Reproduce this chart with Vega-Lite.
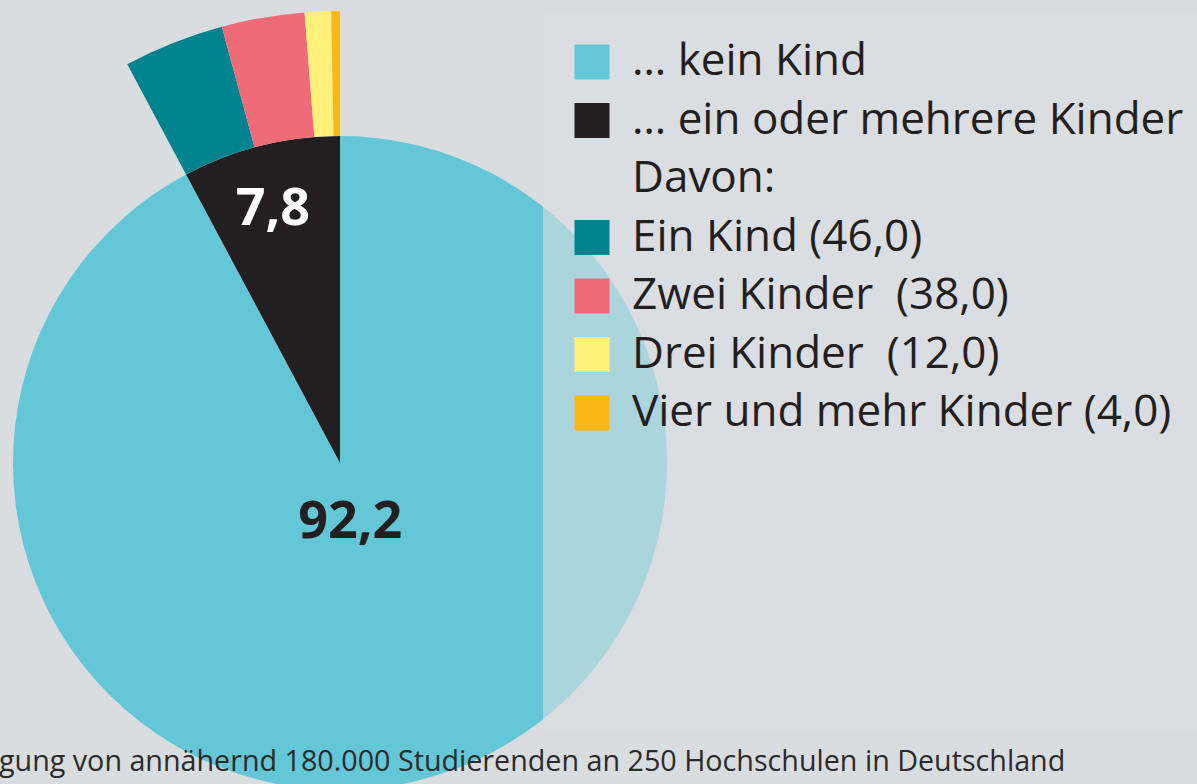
{
  "$schema": "https://vega.github.io/schema/vega-lite/v6.json",
  "width": 680,
  "height": 564,
  "autosize": {"type": "none"},
  "padding": {"left": 0, "top": 181, "right": 517, "bottom": 39},
  "background": "#d9dde0",
  "config": {
    "view": {"stroke": null},
    "font": "Open Sans"
  },
  "title": {
    "text": "gung von annähernd 180.000 Studierenden an 250 Hochschulen in Deutschland",
    "orient": "bottom",
    "anchor": "start",
    "frame": "group",
    "offset": -42,
    "dx": -1,
    "font": "Open Sans",
    "fontSize": 28.7,
    "fontWeight": "normal",
    "color": "#2b2b2b"
  },
  "datasets": {
    "main": [
      {"kategorie": "… kein Kind", "anteil": 92.2, "label": "92,2"},
      {"kategorie": "… ein oder mehrere Kinder", "anteil": 7.8, "label": "7,8"}
    ],
    "davon": [
      {"kategorie": "… kein Kind", "anteil": 92.2},
      {"kategorie": "Ein Kind (46,0)", "anteil": 3.59},
      {"kategorie": "Zwei Kinder\u00a0 (38,0)", "anteil": 2.96},
      {"kategorie": "Drei Kinder\u00a0 (12,0)", "anteil": 0.94},
      {"kategorie": "Vier und mehr Kinder (4,0)", "anteil": 0.31}
    ]
  },
  "layer": [
    {
      "data": {"name": "main"},
      "mark": {"type": "arc", "outerRadius": 327, "stroke": null},
      "encoding": {
        "theta": {"field": "anteil", "type": "quantitative", "stack": true, "scale": {"domain": [0, 100]}},
        "order": {"field": "anteil", "type": "quantitative", "sort": "descending"},
        "color": {
          "field": "kategorie",
          "type": "nominal",
          "scale": {
            "domain": ["… kein Kind", "… ein oder mehrere Kinder", "Davon:", "Ein Kind (46,0)", "Zwei Kinder\u00a0 (38,0)", "Drei Kinder\u00a0 (12,0)", "Vier und mehr Kinder (4,0)"],
            "range": ["#63c7d8", "#231f20", "transparent", "#00838f", "#f06b78", "#fff07a", "#fbb716"]
          },
          "legend": {
            "orient": "none",
            "legendX": 543,
            "legendY": -168,
            "direction": "vertical",
            "symbolType": "square",
            "symbolSize": 1225,
            "symbolStrokeWidth": 0,
            "labelFont": "Open Sans",
            "labelFontSize": 44,
            "labelColor": "#231f20",
            "labelOffset": 18,
            "labelLimit": 800,
            "rowPadding": 14.5,
            "padding": 27,
            "fillColor": "rgba(218,222,225,0.6)",
            "zindex": 1,
            "title": " ",
            "titleOrient": "bottom",
            "titlePadding": 260,
            "titleFontSize": 10
          }
        }
      }
    },
    {
      "data": {"name": "davon"},
      "transform": [
        {"stack": "anteil", "groupby": [], "sort": [{"field": "anteil", "order": "descending"}], "as": ["t0", "t1"]},
        {"filter": "datum.kategorie !== '… kein Kind'"}
      ],
      "mark": {"type": "arc", "outerRadius": 452, "innerRadius": 327, "stroke": null},
      "encoding": {
        "theta": {"field": "t0", "type": "quantitative", "scale": {"domain": [0, 100]}},
        "theta2": {"field": "t1"},
        "color": {"field": "kategorie", "type": "nominal"}
      }
    },
    {
      "data": {"name": "main"},
      "mark": {"type": "text", "radius": 264, "fontSize": 52, "fontWeight": "bold", "font": "Open Sans", "color": "#ffffff", "align": "center", "baseline": "middle", "dx": -3, "dy": 2},
      "encoding": {
        "theta": {"field": "anteil", "type": "quantitative", "stack": true, "scale": {"domain": [0, 100]}},
        "order": {"field": "anteil", "type": "quantitative", "sort": "descending"},
        "text": {"field": "label"},
        "opacity": {"condition": {"test": "datum.kategorie === '… ein oder mehrere Kinder'", "value": 1}, "value": 0}
      }
    },
    {
      "data": {"name": "main"},
      "mark": {"type": "text", "radius": 59, "fontSize": 52, "fontWeight": "bold", "font": "Open Sans", "color": "#231f20", "align": "center", "baseline": "middle", "dx": -4, "dy": 2},
      "encoding": {
        "theta": {"field": "anteil", "type": "quantitative", "stack": true, "scale": {"domain": [0, 100]}},
        "order": {"field": "anteil", "type": "quantitative", "sort": "descending"},
        "text": {"field": "label"},
        "opacity": {"condition": {"test": "datum.kategorie === '… kein Kind'", "value": 1}, "value": 0}
      }
    }
  ]
}
